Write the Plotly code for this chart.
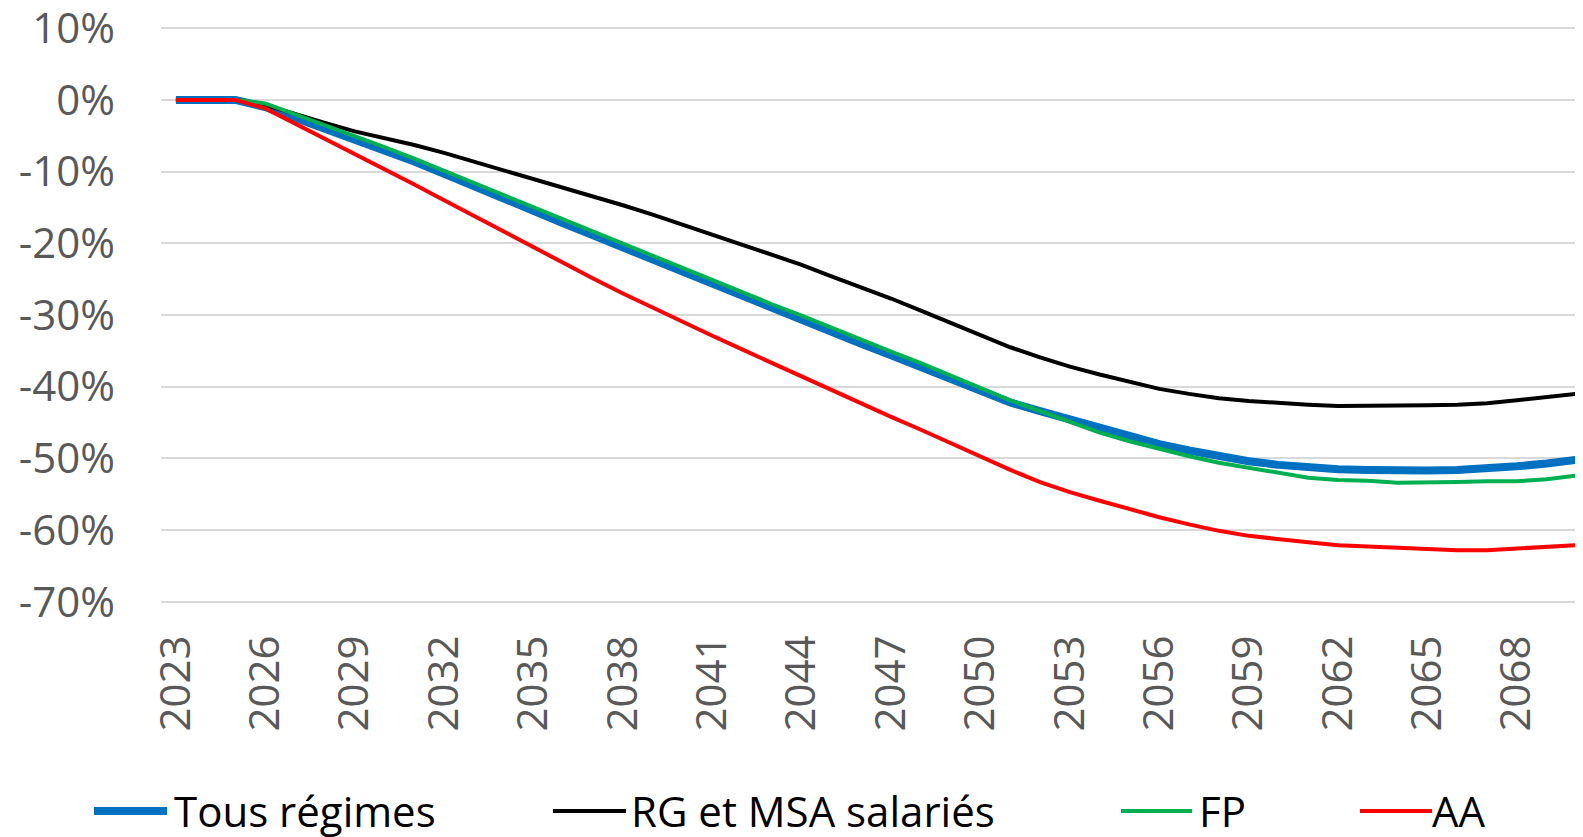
import plotly.graph_objects as go

years = list(range(2023, 2071))

tous_regimes = [0, 0, 0, -1.0, -2.5, -4.0, -5.6, -7.1, -8.6, -10.3,
                -12.1, -13.8, -15.5, -17.2, -18.9, -20.6, -22.3, -24.0, -25.7, -27.4,
                -29.1, -30.7, -32.3, -34.0, -35.6, -37.2, -38.9, -40.6, -42.2, -43.4,
                -44.6, -45.8, -47.0, -48.0, -48.9, -49.7, -50.4, -50.9, -51.3, -51.5,
                -51.6, -51.7, -51.7, -51.6, -51.4, -51.1, -50.7, -50.2]

rg_msa = [0, 0, 0, -0.7, -2.0, -3.2, -4.4, -5.3, -6.3, -7.4,
          -8.6, -9.8, -11.0, -12.2, -13.4, -14.7, -16.0, -17.4, -18.7, -20.1,
          -21.5, -23.0, -24.6, -26.1, -27.7, -29.4, -31.1, -32.9, -34.5, -35.9,
          -37.2, -38.3, -39.3, -40.3, -41.0, -41.6, -42.0, -42.3, -42.5, -42.7,
          -42.7, -42.6, -42.6, -42.5, -42.3, -41.9, -41.5, -41.0]

fp = [0, 0, 0, -0.5, -2.0, -3.5, -5.1, -6.6, -8.2, -9.9,
      -11.6, -13.3, -15.0, -16.7, -18.4, -20.0, -21.7, -23.4, -25.1, -26.8,
      -28.5, -30.1, -31.8, -33.5, -35.1, -36.7, -38.4, -40.1, -41.9, -43.4,
      -44.9, -46.4, -47.6, -48.7, -49.7, -50.6, -51.3, -52.0, -52.7, -53.0,
      -53.1, -53.4, -53.4, -53.3, -53.2, -53.2, -52.9, -52.4]

aa = [0, 0, 0, -1.2, -3.3, -5.4, -7.6, -9.7, -11.8, -14.0,
      -16.2, -18.4, -20.6, -22.8, -24.9, -27.0, -29.0, -31.0, -32.9, -34.8,
      -36.7, -38.6, -40.5, -42.3, -44.2, -46.0, -47.9, -49.7, -51.6, -53.3,
      -54.7, -55.9, -57.1, -58.2, -59.2, -60.1, -60.8, -61.3, -61.7, -62.1,
      -62.3, -62.5, -62.7, -62.8, -62.8, -62.6, -62.4, -62.1]

series_names = ["Tous régimes", "RG et MSA salariés", "FP", "AA"]
series_values = [tous_regimes, rg_msa, fp, aa]
series_colors = ["#0070C0", "#000000", "#00B050", "#FF0000"]
series_widths = [8, 4, 4, 4]

x_tick_years = list(range(2023, 2069, 3))
x_tick_labels = [str(y) for y in x_tick_years]
y_tick_vals = list(range(10, -80, -10))
y_tick_labels = [f"{v}%" for v in y_tick_vals]

W, H = 1583, 837
ML, MR, MT, MB = 153, 8, 13, 236
FONT = "Open Sans"

fig = go.Figure()
for name, vals, col, w in zip(series_names, series_values, series_colors, series_widths):
    fig.add_trace(go.Scatter(x=years, y=vals, mode="lines", name=name,
                             line=dict(color=col, width=w), showlegend=False))

# manual legend (pixel positions in figure coordinates)
def px_x(p):
    return (p - ML) / (W - ML - MR)

def px_y(p):
    return (H - MB - p) / (H - MT - MB)

legend_items = [(86, 159, 164), (545, 618, 621), (1113, 1184, 1189), (1352, 1424, 1422)]
ly = 803
for (x0, x1, tx), name, col, w in zip(legend_items, series_names, series_colors, series_widths):
    fig.add_shape(type="line", xref="paper", yref="paper",
                  x0=px_x(x0), x1=px_x(x1), y0=px_y(ly), y1=px_y(ly),
                  line=dict(color=col, width=w))
    fig.add_annotation(xref="paper", yref="paper", x=px_x(tx), y=px_y(ly - 1),
                       text=name, showarrow=False, xanchor="left", yanchor="middle",
                       font=dict(family=FONT, size=42, color="#000000"))

fig.update_layout(
    width=W, height=H,
    margin=dict(l=ML, r=MR, t=MT, b=MB, pad=0),
    paper_bgcolor="white", plot_bgcolor="white",
    font=dict(family=FONT, size=42, color="#595959"),
    showlegend=False,
)
fig.update_xaxes(range=[2022.5, 2070.22], tickmode="array", tickvals=x_tick_years,
                 ticktext=x_tick_labels, tickangle=-90, showgrid=False, zeroline=False,
                 showline=False, ticks="", ticklabelstandoff=17, automargin=False,
                 ticklabeloverflow="allow",
                 tickfont=dict(family=FONT, size=42, color="#595959"))
fig.update_yaxes(range=[-71, 11], tickmode="array", tickvals=y_tick_vals,
                 ticktext=y_tick_labels, showgrid=True, gridcolor="#D9D9D9", gridwidth=2,
                 zeroline=False, showline=False, ticks="", ticklabelstandoff=45,
                 automargin=False, ticklabeloverflow="allow",
                 tickfont=dict(family=FONT, size=42, color="#595959"))

fig.write_html("out.html")
